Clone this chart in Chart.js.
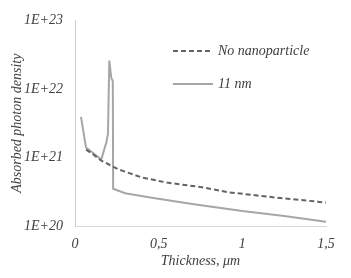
<!DOCTYPE html>
<html>
<head>
<meta charset="utf-8">
<script src="https://cdn.jsdelivr.net/npm/chart.js@4/dist/chart.umd.min.js"></script>
<style>
  html, body { margin: 0; padding: 0; background: #fff; }
</style>
</head>
<body>
<canvas id="chart" width="351" height="278"></canvas>
<script>
// data
const thicknessNone = [0.066, 0.1, 0.157, 0.26, 0.4, 0.55, 0.75, 0.92, 1.2, 1.5]
const densityNone = [1.3e21, 1.15e21, 9.0e20, 6.7e20, 5.1e20, 4.3e20, 3.7e20, 3.1e20, 2.6e20, 2.2e20]

const thickness11 = [0.036, 0.06, 0.066, 0.157, 0.187, 0.197, 0.205, 0.217, 0.226, 0.228, 0.3, 0.45, 0.7, 1.0, 1.25, 1.5]
const density11 = [3.9e21, 1.7e21, 1.4e21, 9.3e20, 1.65e21, 2.2e21, 2.6e22, 1.45e22, 1.3e22, 3.5e20, 3.0e20, 2.6e20, 2.1e20, 1.65e20, 1.4e20, 1.15e20]

const seriesLabels = ['No nanoparticle', '11 nm']
const xTicks = [0, 0.5, 1, 1.5]
const yTicks = [1e20, 1e21, 1e22, 1e23]

const serif = '"Liberation Serif", "DejaVu Serif", serif'
const textColor = '#404040'

function toPoints(xs, ys) {
    return xs.map((x, i) => ({ x: x, y: ys[i] }))
}

// small legend drawn inside the plot area
const insideLegend = {
    id: 'insideLegend',
    afterDraw(chart) {
        const ctx = chart.ctx
        const rows = [51, 84]
        ctx.save()
        chart.data.datasets.forEach((ds, i) => {
            const y = rows[i]
            ctx.strokeStyle = ds.borderColor
            ctx.lineWidth = ds.borderWidth
            ctx.setLineDash(ds.borderDash || [])
            ctx.beginPath()
            ctx.moveTo(173, y)
            ctx.lineTo(213, y)
            ctx.stroke()
            ctx.setLineDash([])
            ctx.fillStyle = textColor
            ctx.font = 'italic 14px ' + serif
            ctx.textBaseline = 'middle'
            ctx.fillText(ds.label, 218, y)
        })
        ctx.restore()
    }
}

new Chart(document.getElementById('chart'), {
    type: 'scatter',
    data: {
        datasets: [
            {
                label: seriesLabels[0],
                data: toPoints(thicknessNone, densityNone),
                showLine: true,
                borderColor: '#636363',
                borderWidth: 2,
                borderDash: [5, 3],
                pointRadius: 0,
                tension: 0
            },
            {
                label: seriesLabels[1],
                data: toPoints(thickness11, density11),
                showLine: true,
                borderColor: '#a6a6a6',
                borderWidth: 2,
                pointRadius: 0,
                tension: 0
            }
        ]
    },
    options: {
        responsive: false,
        animation: false,
        devicePixelRatio: 1,
        layout: { padding: { top: 20, right: 25, left: 9, bottom: 8 } },
        plugins: {
            legend: { display: false },
            tooltip: { enabled: false }
        },
        scales: {
            x: {
                type: 'linear',
                min: 0,
                max: 1.5,
                afterBuildTicks: (scale) => { scale.ticks = xTicks.map(v => ({ value: v })) },
                afterFit: (scale) => { scale.height = 44 },
                grid: { display: false, drawTicks: false },
                border: { display: true, color: '#d9d9d9', width: 1 },
                ticks: {
                    padding: 10,
                    color: textColor,
                    font: { family: serif, size: 14, style: 'italic' },
                    callback: (v) => String(v).replace('.', ',')
                },
                title: {
                    display: true,
                    text: 'Thickness, μm',
                    color: textColor,
                    padding: { top: 0, bottom: 0 },
                    font: { family: serif, size: 14, style: 'italic' }
                }
            },
            y: {
                type: 'logarithmic',
                min: 1e20,
                max: 1e23,
                afterBuildTicks: (scale) => { scale.ticks = yTicks.map(v => ({ value: v })) },
                afterFit: (scale) => { scale.width = 66 },
                grid: { display: false, drawTicks: false },
                border: { display: true, color: '#d0d0d0', width: 1 },
                ticks: {
                    padding: 12,
                    color: textColor,
                    font: { family: serif, size: 14, style: 'italic' },
                    callback: (v) => '1E+' + Math.round(Math.log10(v))
                },
                title: {
                    display: true,
                    text: 'Absorbed photon density',
                    color: textColor,
                    padding: { top: 0, bottom: 0 },
                    font: { family: serif, size: 14, style: 'italic' }
                }
            }
        }
    },
    plugins: [insideLegend]
})
</script>
</body>
</html>
